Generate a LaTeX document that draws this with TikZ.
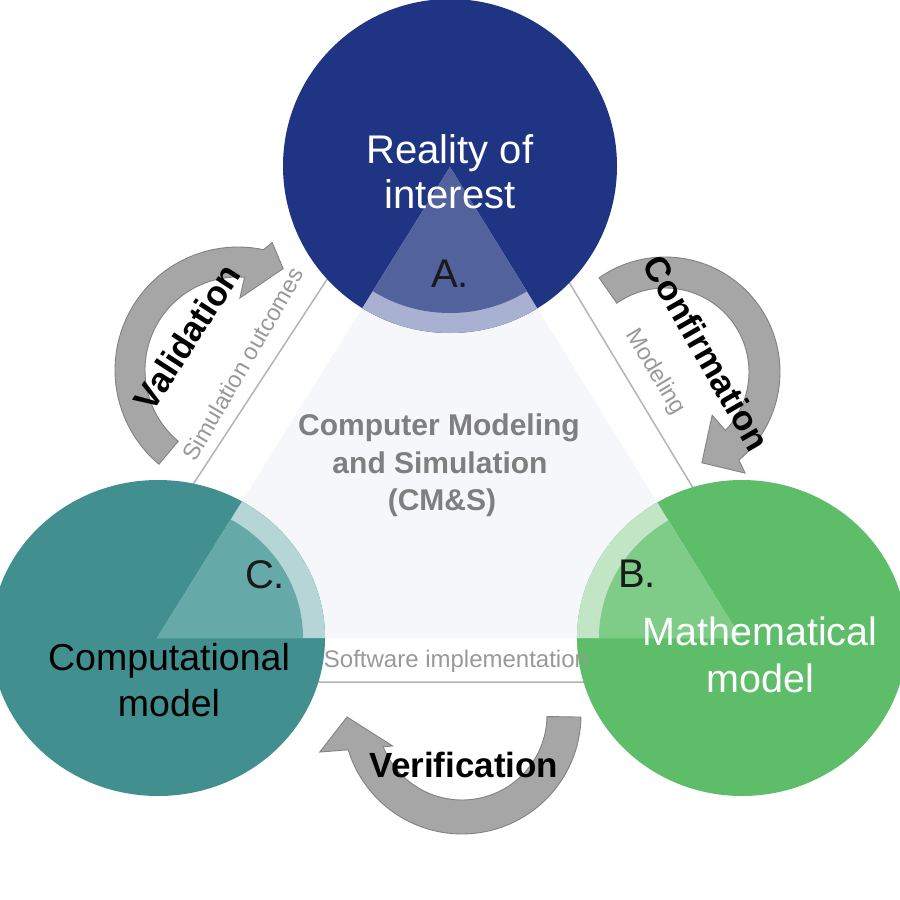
\documentclass[tikz,border=0pt]{standalone}
\usepackage{fontspec}
\setmainfont{Liberation Sans}
\definecolor{cblue}{HTML}{1F3583}
\definecolor{cblueIn}{HTML}{52629C}
\definecolor{cblueBand}{HTML}{A9B1D2}
\definecolor{cteal}{HTML}{418F8F}
\definecolor{ctealIn}{HTML}{65A9A9}
\definecolor{ctealBand}{HTML}{B5D5D6}
\definecolor{cgreen}{HTML}{5DBD68}
\definecolor{cgreenIn}{HTML}{7FCB88}
\definecolor{cgreenBand}{HTML}{C2E5C5}
\definecolor{pale}{HTML}{F5F7FA}
\definecolor{gline}{HTML}{B4B4B4}
\definecolor{gtext}{HTML}{999999}
\definecolor{cmtext}{HTML}{7F7F7F}
\definecolor{afill}{HTML}{A6A6A6}
\definecolor{aline}{HTML}{828282}
\definecolor{dtext}{HTML}{1A1A1A}
\begin{document}
\begin{tikzpicture}[x=1pt,y=-1pt,
  circlab/.style={font=\fontsize{40}{48}\selectfont, text=white, inner sep=0pt, anchor=base},
  darklab/.style={font=\fontsize{38}{46}\selectfont, text=dtext, inner sep=0pt, anchor=base},
  cmlab/.style={font=\fontsize{30}{36}\selectfont\bfseries, text=cmtext, inner sep=0pt, anchor=base},
  edgelab/.style={font=\fontsize{23.5}{28}\selectfont, text=gtext, inner sep=0pt},
  arrlab/.style={font=\fontsize{35}{42}\selectfont\bfseries, text=black, inner sep=0pt},
  arrowshape/.style={fill=afill, draw=aline, line width=0.9pt, line join=miter}]
\useasboundingbox (0,0) rectangle (900,900);
\begin{scope}
\clip (0,0) rectangle (900,900);
\fill[white] (0,0) rectangle (900,900);
% outer grey triangle
\coordinate (oA) at (452,88);
\coordinate (oB) at (810,682);
\coordinate (oC) at (64,682);
\draw[gline, line width=1.5pt] (oA) -- (oB) -- (oC) -- cycle;
% pale triangle between circle centres
\coordinate (A) at (450,167);
\coordinate (B) at (741,638);
\coordinate (C) at (157,638);
\fill[pale] (A) -- (B) -- (C) -- cycle;
% circles
\coordinate (cA) at (450,166);
\coordinate (cB) at (742,638);
\coordinate (cC) at (158,638);
\fill[cblue] (cA) circle [radius=167];
\fill[cteal] (cC) ellipse [x radius=167, y radius=158];
\fill[cgreen] (cB) ellipse [x radius=165, y radius=158];
\begin{scope}
\clip (A) -- (B) -- (C) -- cycle;
\fill[cblueBand] (cA) circle [radius=167];
\fill[cblueIn] (cA) circle [radius=147];
\fill[ctealBand] (cC) ellipse [x radius=167, y radius=158];
\fill[ctealIn] (cC) ellipse [x radius=145, y radius=137];
\fill[cgreenBand] (cB) ellipse [x radius=165, y radius=158];
\fill[cgreenIn] (cB) ellipse [x radius=143, y radius=137];
\end{scope}
% circle labels
\node[circlab] (tA1) at (450,163) {Reality of};
\node[circlab] (tA2) at (450,208) {interest};
\node[darklab, font=\fontsize{40}{48}\selectfont] (lA) at (450,287) {A.};
\node[darklab, font=\fontsize{40}{48}\selectfont] (lC) at (265,588) {C.};
\node[darklab, font=\fontsize{40}{48}\selectfont] (lB) at (637,587) {B.};
\node[darklab, text=black, font=\fontsize{37.5}{45}\selectfont] (tC1) at (169,670) {Computational};
\node[darklab, text=black, font=\fontsize{37.5}{45}\selectfont] (tC2) at (169,716) {model};
\node[circlab, font=\fontsize{39.5}{47}\selectfont] (tB1) at (760,645) {Mathematical};
\node[circlab, font=\fontsize{39.5}{47}\selectfont] (tB2) at (760,692) {model};
% centre label
\node[cmlab] (cm1) at (439,435) {Computer Modeling};
\node[cmlab] (cm2) at (440,473) {and Simulation};
\node[cmlab] (cm3) at (442,510) {(CM\&S)};
% edge labels
\node[edgelab, rotate=60] (so) at (243,364) {Simulation outcomes};
\node[edgelab, rotate=-59] (md) at (655,372) {Modeling};
\node[edgelab, font=\fontsize{24}{28}\selectfont, anchor=base] (sw) at (456,667) {Software implementation};
% Validation arrow
\filldraw[arrowshape]
  plot[domain=130:282, samples=60] ({238+123*cos(\x)},{370+123*sin(\x)})
  -- ({238+132*cos(285)},{370+132*sin(285)})
  -- ({238+111*cos(294)},{370+111*sin(294)})
  -- ({238+72*cos(271.5)},{370+72*sin(271.5)})
  -- ({238+93*cos(274)},{370+93*sin(274)})
  -- plot[domain=274:130, samples=60] ({238+93*cos(\x)},{370+93*sin(\x)})
  -- cycle;
% Confirmation arrow
\filldraw[arrowshape]
  plot[domain=235:410, samples=70] ({665+115*cos(\x)},{372+115*sin(\x)})
  -- ({665+129*cos(411.6)},{372+129*sin(411.6)})
  -- ({665+98*cos(427.9)},{372+98*sin(427.9)})
  -- ({665+64*cos(402.5)},{372+64*sin(402.5)})
  -- ({665+84*cos(404)},{372+84*sin(404)})
  -- plot[domain=404:235, samples=70] ({665+84*cos(\x)},{372+84*sin(\x)})
  -- cycle;
% Verification arrow
\filldraw[arrowshape]
  plot[domain=1:163, samples=60] ({462+119*cos(\x)},{715+119*sin(\x)})
  -- ({462+147*cos(165.4)},{715+147*sin(165.4)})
  -- ({462+115*cos(179)},{715+115*sin(179)})
  -- ({462+76*cos(156)},{715+76*sin(156)})
  -- ({462+85*cos(158)},{715+85*sin(158)})
  -- plot[domain=158:1, samples=60] ({462+85*cos(\x)},{715+85*sin(\x)})
  -- cycle;
% arrow labels
\node[arrlab, rotate=57] (val) at (187,337) {Validation};
\node[arrlab, rotate=-60] (con) at (707,353) {Confirmation};
\node[arrlab, anchor=base] (ver) at (464,777) {Verification};
\end{scope}
\end{tikzpicture}
\end{document}
